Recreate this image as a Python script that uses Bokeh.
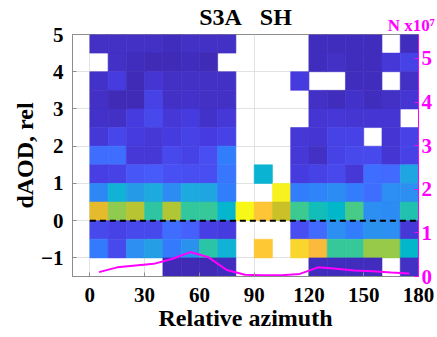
import numpy as np
from bokeh.plotting import figure
from bokeh.models import (ColumnDataSource, LinearColorMapper, Range1d, LinearAxis,
                          FixedTicker)
from bokeh.transform import transform
from bokeh.embed import file_html
from bokeh.resources import INLINE

# ---------------- data ----------------
title_text = "S3A\u00a0\u00a0\u00a0SH"
x_label = "Relative azimuth"
y_label = "dAOD, rel"
n_label = "N x10\u2077"

az_edges = [0, 10, 20, 30, 40, 50, 60, 70, 80, 90, 100, 110, 120, 130, 140, 150, 160, 170, 180]
daod_edges_top_down = [5.0, 4.5, 4.0, 3.5, 3.0, 2.5, 2.0, 1.5, 1.0, 0.5, 0.0, -0.5, -1.0, -1.5]

x_ticks = [0, 30, 60, 90, 120, 150, 180]
y_ticks = [-1, 0, 1, 2, 3, 4, 5]
n_ticks = [0, 1, 2, 3, 4, 5]

N = None
# relative density (0..1 on colour scale), rows from top (4.5..5) to bottom (-1.5..-1)
density_rows = [
    [0.04, 0.04, 0.04, 0.04, 0.03, 0.04, 0.04, 0.04, N, N, N, N, 0.03, 0.03, 0.03, 0.03, N, 0.03],
    [N, 0.04, 0.03, 0.02, 0.02, 0.03, 0.02, N, N, N, N, N, 0.03, 0.04, 0.03, 0.03, 0.07, 0.10],
    [0.05, 0.08, 0.02, 0.06, 0.04, 0.04, 0.04, 0.04, N, N, N, 0.08, N, N, 0.03, 0.03, N, 0.04],
    [0.04, 0.02, 0.02, 0.10, 0.04, 0.05, 0.04, 0.04, N, N, N, N, 0.04, 0.03, 0.05, 0.03, 0.04, 0.06],
    [0.05, 0.04, 0.08, 0.12, 0.07, 0.08, 0.05, 0.07, N, N, N, N, 0.06, 0.07, 0.06, 0.06, 0.06, N],
    [0.07, 0.11, 0.08, 0.07, 0.08, 0.10, 0.08, 0.10, N, N, N, 0.07, 0.06, 0.10, 0.10, N, 0.06, 0.10],
    [0.22, 0.22, 0.07, 0.07, 0.12, 0.10, 0.13, 0.26, N, N, N, 0.07, 0.04, 0.10, 0.12, 0.12, 0.06, 0.10],
    [0.09, 0.10, 0.16, 0.17, 0.14, 0.13, 0.13, 0.24, N, 0.44, N, 0.08, 0.10, 0.12, 0.07, 0.22, 0.21, 0.38],
    [0.29, 0.43, 0.35, 0.40, 0.30, 0.40, 0.38, 0.26, N, N, 0.97, 0.26, 0.28, 0.30, 0.26, 0.22, 0.31, 0.31],
    [0.79, 0.68, 0.73, 0.55, 0.72, 0.56, 0.57, 0.45, 0.99, 0.86, 0.75, 0.58, 0.50, 0.46, 0.60, 0.31, 0.30, 0.52],
    [0.12, 0.10, 0.12, 0.12, 0.22, 0.18, 0.09, 0.08, N, N, N, 0.13, 0.21, 0.31, 0.26, 0.32, 0.31, 0.07],
    [0.25, 0.12, 0.31, 0.36, 0.25, 0.32, 0.54, 0.43, N, 0.87, N, 0.90, 0.83, 0.57, 0.57, 0.69, 0.69, 0.46],
    [N, N, N, N, 0.02, 0.02, 0.02, 0.03, N, N, N, N, 0.03, 0.03, 0.03, 0.03, N, 0.04],
]

# number of samples per azimuth bin (x10^7), at bin centres
n_az = [5, 15, 25, 35, 45, 55, 65, 75, 85, 95, 105, 115, 125, 135, 145, 155, 165, 175]
n_counts = [0.10, 0.21, 0.25, 0.29, 0.40, 0.56, 0.44, 0.15, 0.04, 0.03, 0.03, 0.06,
            0.21, 0.18, 0.14, 0.12, 0.09, 0.07]

# ---------------- parula palette ----------------
PARULA = [
    (0.2422, 0.1504, 0.6603), (0.2504, 0.1650, 0.7076), (0.2578, 0.1818, 0.7511), (0.2647, 0.1978, 0.7952),
    (0.2706, 0.2147, 0.8364), (0.2751, 0.2342, 0.8710), (0.2783, 0.2559, 0.8991), (0.2803, 0.2782, 0.9221),
    (0.2813, 0.3006, 0.9414), (0.2810, 0.3228, 0.9579), (0.2795, 0.3447, 0.9717), (0.2760, 0.3667, 0.9829),
    (0.2699, 0.3892, 0.9906), (0.2602, 0.4123, 0.9952), (0.2440, 0.4358, 0.9988), (0.2206, 0.4603, 0.9973),
    (0.1963, 0.4847, 0.9892), (0.1834, 0.5074, 0.9798), (0.1786, 0.5289, 0.9682), (0.1764, 0.5499, 0.9520),
    (0.1687, 0.5703, 0.9359), (0.1540, 0.5902, 0.9218), (0.1460, 0.6091, 0.9079), (0.1380, 0.6276, 0.8973),
    (0.1248, 0.6459, 0.8883), (0.1113, 0.6635, 0.8763), (0.0952, 0.6798, 0.8598), (0.0689, 0.6948, 0.8394),
    (0.0297, 0.7082, 0.8163), (0.0036, 0.7203, 0.7917), (0.0067, 0.7312, 0.7660), (0.0433, 0.7411, 0.7394),
    (0.0964, 0.7500, 0.7120), (0.1408, 0.7584, 0.6842), (0.1717, 0.7670, 0.6554), (0.1938, 0.7758, 0.6251),
    (0.2161, 0.7843, 0.5923), (0.2470, 0.7918, 0.5567), (0.2906, 0.7973, 0.5188), (0.3406, 0.8008, 0.4789),
    (0.3909, 0.8029, 0.4354), (0.4456, 0.8024, 0.3909), (0.5044, 0.7993, 0.3480), (0.5616, 0.7942, 0.3045),
    (0.6174, 0.7876, 0.2612), (0.6720, 0.7793, 0.2227), (0.7242, 0.7698, 0.1910), (0.7738, 0.7598, 0.1646),
    (0.8203, 0.7498, 0.1535), (0.8634, 0.7406, 0.1596), (0.9035, 0.7330, 0.1774), (0.9393, 0.7288, 0.2100),
    (0.9728, 0.7298, 0.2394), (0.9956, 0.7434, 0.2371), (0.9970, 0.7659, 0.2199), (0.9952, 0.7893, 0.2028),
    (0.9892, 0.8136, 0.1885), (0.9786, 0.8386, 0.1766), (0.9676, 0.8639, 0.1643), (0.9610, 0.8890, 0.1537),
    (0.9597, 0.9135, 0.1423), (0.9628, 0.9373, 0.1265), (0.9691, 0.9606, 0.1064), (0.9769, 0.9839, 0.0805),
]
_pa = np.array(PARULA)
_t = np.linspace(0, len(PARULA) - 1, 256)
palette = []
for tt in _t:
    rgb = [np.interp(tt, np.arange(len(PARULA)), _pa[:, k]) for k in range(3)]
    palette.append("#%02x%02x%02x" % tuple(int(round(c * 255)) for c in rgb))

# ---------------- cells ----------------
left, right, top, bottom, val = [], [], [], [], []
for i, row in enumerate(density_rows):
    for j, v in enumerate(row):
        if v is None:
            continue
        left.append(az_edges[j]); right.append(az_edges[j + 1])
        top.append(daod_edges_top_down[i]); bottom.append(daod_edges_top_down[i + 1])
        val.append(v)
cells = ColumnDataSource(dict(left=left, right=right, top=top, bottom=bottom, val=val))
mapper = LinearColorMapper(palette=palette, low=0, high=1)

SERIF = "Liberation Serif"
MAG = "#ff00ff"
SPINE = "#8c8c8c"

x_lo, x_hi = -9.5, 180
y_lo, y_hi = -1.5, 5
p = figure(width=437, height=337, x_range=Range1d(x_lo, x_hi), y_range=Range1d(y_lo, y_hi),
           output_backend="svg", toolbar_location=None,
           min_border_left=72, min_border_right=19, min_border_top=34, min_border_bottom=61)
p.background_fill_color = "white"
p.border_fill_color = "white"
p.outline_line_color = SPINE
p.outline_line_width = 1

p.extra_y_ranges = {"n": Range1d(0, 5.55)}

p.quad(left="left", right="right", top="top", bottom="bottom", source=cells,
       fill_color=transform("val", mapper), line_color=transform("val", mapper), line_width=0.6)

# reference line at zero
p.line([az_edges[0], az_edges[-1]], [0, 0], line_color="black", line_width=2, line_dash="6 4")

# counts line
p.line(n_az, n_counts, y_range_name="n", line_color=MAG, line_width=2)

# grid
p.xgrid.ticker = FixedTicker(ticks=x_ticks)
p.ygrid.ticker = FixedTicker(ticks=y_ticks)
p.xgrid.grid_line_color = "#e2e2e2"
p.ygrid.grid_line_color = "#e2e2e2"

def style_axis(ax, color="black"):
    ax.major_label_text_font = SERIF
    ax.major_label_text_font_style = "bold"
    ax.major_label_text_font_size = "21px"
    ax.major_label_text_color = color
    ax.axis_label_text_font = SERIF
    ax.axis_label_text_font_style = "bold"
    ax.axis_label_text_font_size = "24px"
    ax.axis_label_text_color = "black"
    ax.major_tick_in = 4
    ax.major_tick_out = 0
    ax.minor_tick_line_color = None

xa = p.xaxis[0]
xa.ticker = FixedTicker(ticks=x_ticks)
style_axis(xa)
xa.axis_label = x_label
xa.axis_line_color = SPINE
xa.major_tick_line_color = SPINE
xa.major_label_standoff = 11
xa.axis_label_standoff = 0

ya = p.yaxis[0]
ya.ticker = FixedTicker(ticks=y_ticks)
style_axis(ya)
ya.axis_label = y_label
ya.axis_line_color = SPINE
ya.major_tick_line_color = SPINE
ya.major_label_standoff = 9
ya.axis_label_standoff = 0

ra = LinearAxis(y_range_name="n", ticker=FixedTicker(ticks=n_ticks))
style_axis(ra, MAG)
ra.axis_line_color = MAG
ra.major_tick_line_color = MAG
ra.major_label_standoff = 3
ra.axis_label_standoff = 0
p.add_layout(ra, "right")

# top: panel title (axis label) and the "N x10^7" scale note (tick label near the right end)
n_note_x = 179
ta = LinearAxis(ticker=FixedTicker(ticks=[n_note_x]), major_label_overrides={n_note_x: n_label})
ta.major_label_text_font = SERIF
ta.major_label_text_font_style = "bold"
ta.major_label_text_font_size = "17px"
ta.major_label_text_color = MAG
ta.major_label_standoff = 0
ta.major_tick_in = 0
ta.major_tick_out = 0
ta.major_tick_line_color = None
ta.minor_tick_line_color = None
ta.axis_line_color = None
ta.axis_label = title_text
ta.axis_label_text_font = SERIF
ta.axis_label_text_font_style = "bold"
ta.axis_label_text_font_size = "24px"
ta.axis_label_text_color = "black"
ta.axis_label_standoff = -17
p.add_layout(ta, "above")

open("out.html", "w").write(file_html(p, INLINE))
